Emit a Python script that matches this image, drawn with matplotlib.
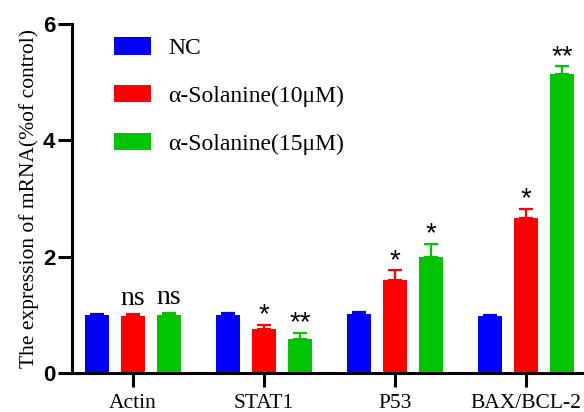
import numpy as np
import matplotlib
matplotlib.use('Agg')
import matplotlib.pyplot as plt

# data
genes = ['Actin', 'STAT1', 'P53', 'BAX/BCL-2']
groups = ['NC', 'α-Solanine(10μM)', 'α-Solanine(15μM)']
nc = [1.00, 1.00, 1.01, 0.98]
sol10 = [0.98, 0.75, 1.59, 2.66]
sol15 = [1.00, 0.58, 1.99, 5.13]
nc_err = [0.01, 0.03, 0.04, 0.01]
sol10_err = [0.04, 0.07, 0.17, 0.16]
sol15_err = [0.03, 0.11, 0.23, 0.14]
sol10_sig = ['ns', '*', '*', '*']
sol15_sig = ['ns', '**', '*', '**']

colors = ['#0000FF', '#FF0000', '#00C400']

fig = plt.figure(figsize=(5.84, 4.12), dpi=100)
ax = fig.add_axes([0.123, 0.095, 0.877, 0.847])

x = np.arange(len(genes))
width = 0.183
offset = 0.275

vals = [nc, sol10, sol15]
errs = [nc_err, sol10_err, sol15_err]
for i in range(3):
    pos = x + (i - 1) * offset
    ax.bar(pos, vals[i], width, color=colors[i], label=groups[i], zorder=2)
    ax.errorbar(pos, vals[i], yerr=[np.zeros(len(genes)), errs[i]], fmt='none',
                ecolor=colors[i], elinewidth=1.6, capsize=5, capthick=1.6, zorder=2)


def mark(px, top, s):
    if s == 'ns':
        ax.text(px, top + 0.05, s, ha='center', va='bottom', fontsize=20,
                family='Liberation Serif')
    else:
        ax.text(px, top - 0.06, s, ha='center', va='bottom', fontsize=20,
                family='Liberation Sans')


# significance marks
for i in range(len(genes)):
    mark(x[i], sol10[i] + sol10_err[i], sol10_sig[i])
    mark(x[i] + offset, sol15[i] + sol15_err[i], sol15_sig[i])

ax.set_ylim(0, 6)
ax.set_xlim(-0.466, 3.44)
ax.set_yticks([0, 2, 4, 6])
ax.set_yticklabels(['0', '2', '4', '6'], fontsize=16, fontweight='bold',
                   family='Liberation Sans')
ax.set_xticks(x)
ax.set_xticklabels(genes, fontsize=15.5, family='Liberation Serif')
ax.set_ylabel('The expression of mRNA(%of control)', fontsize=15.5,
              family='Liberation Serif', labelpad=3)

for side in ['top', 'right']:
    ax.spines[side].set_visible(False)
for side in ['left', 'bottom']:
    ax.spines[side].set_linewidth(2.2)
ax.tick_params(axis='both', width=2.2, length=10, direction='out')
ax.tick_params(axis='y', pad=2)
ax.tick_params(axis='x', pad=5)

ax.legend(loc='upper left', bbox_to_anchor=(0.195, 0.91), bbox_transform=fig.transFigure,
          frameon=False, prop={'family': 'Liberation Serif', 'size': 17},
          handlelength=1.57, handleheight=0.76, handletextpad=0.72, labelspacing=1.1,
          borderpad=0, borderaxespad=0)

fig.savefig('out.png', dpi=100)
